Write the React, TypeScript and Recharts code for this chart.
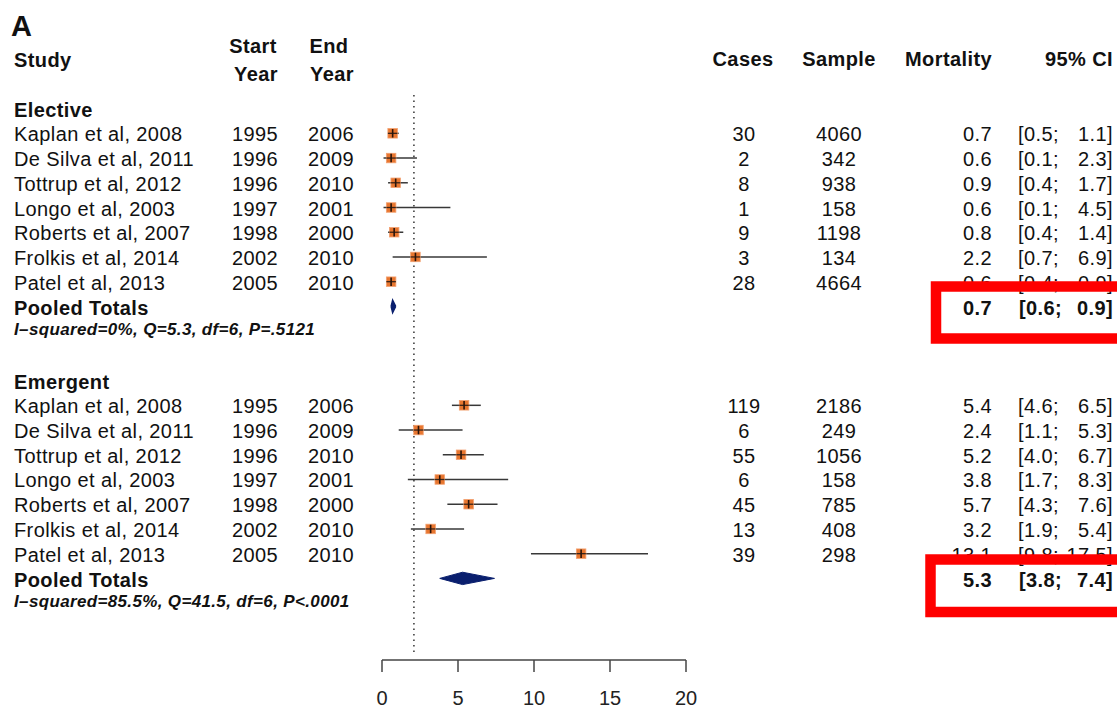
import React from 'react';
import { ComposedChart, Scatter, XAxis, YAxis, ErrorBar, Area, ReferenceLine } from 'recharts';

// ---------- data ----------
const studyNames = [
  'Kaplan et al, 2008',
  'De Silva et al, 2011',
  'Tottrup et al, 2012',
  'Longo et al, 2003',
  'Roberts et al, 2007',
  'Frolkis et al, 2014',
  'Patel et al, 2013',
];
const startYears = [1995, 1996, 1996, 1997, 1998, 2002, 2005];
const endYears = [2006, 2009, 2010, 2001, 2000, 2010, 2010];

const electiveCases = [30, 2, 8, 1, 9, 3, 28];
const electiveSample = [4060, 342, 938, 158, 1198, 134, 4664];
const electiveMortality = [0.7, 0.6, 0.9, 0.6, 0.8, 2.2, 0.6];
const electiveLower = [0.5, 0.1, 0.4, 0.1, 0.4, 0.7, 0.4];
const electiveUpper = [1.1, 2.3, 1.7, 4.5, 1.4, 6.9, 0.9];
const electivePooled = [0.7, 0.6, 0.9]; // estimate, lower, upper
const electiveHet = 'I\u2013squared=0%, Q=5.3, df=6, P=.5121';

const emergentCases = [119, 6, 55, 6, 45, 13, 39];
const emergentSample = [2186, 249, 1056, 158, 785, 408, 298];
const emergentMortality = [5.4, 2.4, 5.2, 3.8, 5.7, 3.2, 13.1];
const emergentLower = [4.6, 1.1, 4.0, 1.7, 4.3, 1.9, 9.8];
const emergentUpper = [6.5, 5.3, 6.7, 8.3, 7.6, 5.4, 17.5];
const emergentPooled = [5.3, 3.8, 7.4];
const emergentHet = 'I\u2013squared=85.5%, Q=41.5, df=6, P<.0001';

const overallLine = 2.1;
const xTicks = [0, 5, 10, 15, 20];

// ---------- layout / style constants ----------
const FONT = "'Liberation Sans', Arial, Helvetica, sans-serif";
const ORANGE = '#E8762F';
const NAVY = '#0A1F6E';
const TEXT = '#111';
const W = 1117;
const H = 711;
const ELECTIVE_OFFSET = 0;
const EMERGENT_OFFSET = 11;
const DIAMOND_HALF = 0.25;

const fmt1 = (v: number) => v.toFixed(1);

function buildStudies(offset: number, cases: number[], sample: number[], mort: number[], lo: number[], hi: number[]) {
  return studyNames.map((name, i) => ({
    x: mort[i],
    y: offset + i,
    err: [+(mort[i] - lo[i]).toFixed(3), +(hi[i] - mort[i]).toFixed(3)],
    kind: 'study',
    name,
    start: startYears[i],
    end: endYears[i],
    cases: cases[i],
    sample: sample[i],
    mort: mort[i],
    lo: lo[i],
    hi: hi[i],
  }));
}

const electiveRows = buildStudies(ELECTIVE_OFFSET, electiveCases, electiveSample, electiveMortality, electiveLower, electiveUpper);
const emergentRows = buildStudies(EMERGENT_OFFSET, emergentCases, emergentSample, emergentMortality, emergentLower, emergentUpper);
const studyRows = [...electiveRows, ...emergentRows];

const pooledRow = (offset: number, p: number[]) => ({ x: 0, y: offset + 7, kind: 'pooled', mort: p[0], lo: p[1], hi: p[2] });

const labelRows = [
  { x: 0, y: ELECTIVE_OFFSET - 1, kind: 'group', text: 'Elective' },
  ...electiveRows.map((r) => ({ ...r, x: 0 })),
  pooledRow(ELECTIVE_OFFSET, electivePooled),
  { x: 0, y: ELECTIVE_OFFSET + 8, kind: 'het', text: electiveHet },
  { x: 0, y: EMERGENT_OFFSET - 1, kind: 'group', text: 'Emergent' },
  ...emergentRows.map((r) => ({ ...r, x: 0 })),
  pooledRow(EMERGENT_OFFSET, emergentPooled),
  { x: 0, y: EMERGENT_OFFSET + 8, kind: 'het', text: emergentHet },
];

const diamond = (offset: number, p: number[]) => [
  { x: p[1], band: [offset + 7, offset + 7] },
  { x: p[0], band: [offset + 7 - DIAMOND_HALF, offset + 7 + DIAMOND_HALF] },
  { x: p[2], band: [offset + 7, offset + 7] },
];

// ---------- shapes ----------
const StudyShape = (props: any) => {
  const { cx, cy } = props;
  if (cx == null || cy == null) return null;
  const s = 9.5;
  return (
    <g>
      <rect x={cx - s / 2} y={cy - s / 2} width={s} height={s} fill={ORANGE} stroke="#F2A070" strokeWidth={0.8} />
      <line x1={cx - s / 2} x2={cx + s / 2} y1={cy} y2={cy} stroke="#3a2418" strokeWidth={1.3} />
      <line x1={cx} x2={cx} y1={cy - s / 2 + 0.5} y2={cy + s / 2 - 0.5} stroke="#2a140a" strokeWidth={1.6} />
    </g>
  );
};

const txt = { fontFamily: FONT, fill: TEXT, fontSize: 20, letterSpacing: 0.4 } as const;

const LabelShape = (props: any) => {
  const { cy, payload } = props;
  if (cy == null || !payload) return null;
  const r = payload;
  if (r.kind === 'group') {
    return <text x={14} y={cy + 8} {...txt} fontWeight="bold">{r.text}</text>;
  }
  if (r.kind === 'het') {
    return (
      <text x={14} y={cy + 3.5} {...txt} fontSize={17} letterSpacing={0.35} fontWeight="bold" fontStyle="italic">
        {r.text}
      </text>
    );
  }
  if (r.kind === 'pooled') {
    const b = cy + 8.5;
    return (
      <g>
        <text x={14} y={b} {...txt} fontWeight="bold">Pooled Totals</text>
        <text x={992} y={b} {...txt} fontWeight="bold" textAnchor="end">{fmt1(r.mort)}</text>
        <text x={1062} y={b} {...txt} fontWeight="bold" textAnchor="end">{'[' + fmt1(r.lo) + ';'}</text>
        <text x={1113} y={b} {...txt} fontWeight="bold" textAnchor="end">{fmt1(r.hi) + ']'}</text>
      </g>
    );
  }
  const b = cy + 8;
  return (
    <g>
      <text x={14} y={b} {...txt}>{r.name}</text>
      <text x={255} y={b} {...txt} textAnchor="middle">{r.start}</text>
      <text x={331} y={b} {...txt} textAnchor="middle">{r.end}</text>
      <text x={744} y={b} {...txt} textAnchor="middle">{r.cases}</text>
      <text x={839} y={b} {...txt} textAnchor="middle">{r.sample}</text>
      <text x={992} y={b} {...txt} textAnchor="end">{fmt1(r.mort)}</text>
      <text x={1059} y={b} {...txt} textAnchor="end">{'[' + fmt1(r.lo) + ';'}</text>
      <text x={1113} y={b} {...txt} textAnchor="end">{fmt1(r.hi) + ']'}</text>
    </g>
  );
};

export default function App() {
  return (
    <div style={{ position: 'absolute', left: 0, top: 0, width: W, height: H, background: '#fff' }}>
      <ComposedChart width={W} height={H} margin={{ top: 95, right: 431, bottom: 0, left: 382 }}>
        <XAxis
          type="number"
          dataKey="x"
          domain={[0, 20]}
          ticks={xTicks}
          interval={0}
          height={51}
          tickSize={12}
          tickMargin={19}
          stroke="#444"
          strokeWidth={1.5}
          tick={{ fontFamily: FONT, fontSize: 20, fill: '#222' }}
        />
        <YAxis type="number" dataKey="y" domain={[-1.55, 21.3]} reversed hide />
        <ReferenceLine
          segment={[{ x: overallLine, y: -1.55 }, { x: overallLine, y: 21.1 }]}
          stroke="#333"
          strokeWidth={1.5}
          strokeDasharray="1.5 4"
        />
        <Area
          data={diamond(ELECTIVE_OFFSET, electivePooled)}
          dataKey="band"
          type="linear"
          stroke={NAVY}
          strokeWidth={1.5}
          fill={NAVY}
          fillOpacity={1}
          dot={false}
          activeDot={false}
          isAnimationActive={false}
        />
        <Area
          data={diamond(EMERGENT_OFFSET, emergentPooled)}
          dataKey="band"
          type="linear"
          stroke={NAVY}
          strokeWidth={1}
          fill={NAVY}
          fillOpacity={1}
          dot={false}
          activeDot={false}
          isAnimationActive={false}
        />
        <Scatter data={studyRows} shape={StudyShape} isAnimationActive={false}>
          <ErrorBar dataKey="err" direction="x" width={0} stroke="#383838" strokeWidth={1.5} />
        </Scatter>
        <Scatter data={labelRows} shape={LabelShape} isAnimationActive={false} />
      </ComposedChart>
      <svg
        width={W}
        height={H}
        style={{ position: 'absolute', left: 0, top: 0, pointerEvents: 'none' }}
      >
        <text x={11} y={36} fontFamily={FONT} fontSize={29} fontWeight="bold" fill={TEXT}>A</text>
        <text x={14} y={67} {...txt} fontWeight="bold">Study</text>
        <text x={253} y={53} {...txt} fontWeight="bold" textAnchor="middle">Start</text>
        <text x={256} y={81} {...txt} fontWeight="bold" textAnchor="middle">Year</text>
        <text x={329} y={53} {...txt} fontWeight="bold" textAnchor="middle">End</text>
        <text x={332} y={81} {...txt} fontWeight="bold" textAnchor="middle">Year</text>
        <text x={743} y={66} {...txt} fontWeight="bold" textAnchor="middle">Cases</text>
        <text x={839} y={66} {...txt} fontWeight="bold" textAnchor="middle">Sample</text>
        <text x={992} y={66} {...txt} fontWeight="bold" textAnchor="end">Mortality</text>
        <text x={1113} y={66} {...txt} fontWeight="bold" textAnchor="end">95% CI</text>
        <rect x={936} y={286.5} width={240} height={52} fill="none" stroke="#FF0000" strokeWidth={10.5} />
        <rect x={930.5} y={559.5} width={240} height={52.5} fill="none" stroke="#FF0000" strokeWidth={10.5} />
      </svg>
    </div>
  );
}
